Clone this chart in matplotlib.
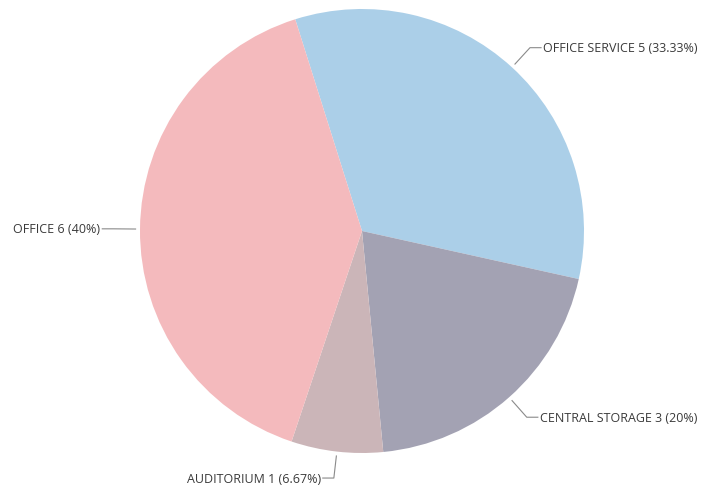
import numpy as np
import matplotlib
matplotlib.use("Agg")
from matplotlib import pyplot as plt

labels = ["OFFICE SERVICE 5", "CENTRAL STORAGE 3", "AUDITORIUM 1", "OFFICE 6"]
values = [5, 3, 1, 6]
colors = ["#abcfe8", "#a3a2b3", "#cbb5b8", "#f4babd"]

plt.rcParams['font.family'] = ['Open Sans', 'DejaVu Sans']

fig = plt.figure(figsize=(7.13, 4.89), dpi=100)
ax = fig.add_axes([0, 0, 1, 1])

start = 107.5
wedges, _ = ax.pie(values, colors=colors, startangle=start, counterclock=False,
                   radius=1.0, wedgeprops=dict(linewidth=0))

total = sum(values)
for w, lab, v in zip(wedges, labels, values):
    mid = np.deg2rad((w.theta1 + w.theta2) / 2)
    cx, cy = np.cos(mid), np.sin(mid)
    x0, y0 = 1.02 * cx, 1.02 * cy
    x1, y1 = 1.12 * cx, 1.12 * cy
    side = 1 if cx >= 0 else -1
    x2 = x1 + side * 0.05
    ax.plot([x0, x1, x2], [y0, y1, y1], color="#8a8a8a", lw=0.8)
    pct = 100 * v / total
    txt = f"{lab} ({pct:.2f}".rstrip("0").rstrip(".") + "%)"
    ax.text(x2 + side * 0.008, y1, txt, ha="left" if side > 0 else "right",
            va="center", fontsize=9, color="#3a3a3a")

# centre of the pie sits at (362, 232) px, radius 222 px
ax.set_xlim(-362 / 222, (713 - 362) / 222)
ax.set_ylim(-(489 - 232) / 222, 232 / 222)
ax.set_aspect("auto")
ax.axis("off")

fig.savefig("out.png", dpi=100)
